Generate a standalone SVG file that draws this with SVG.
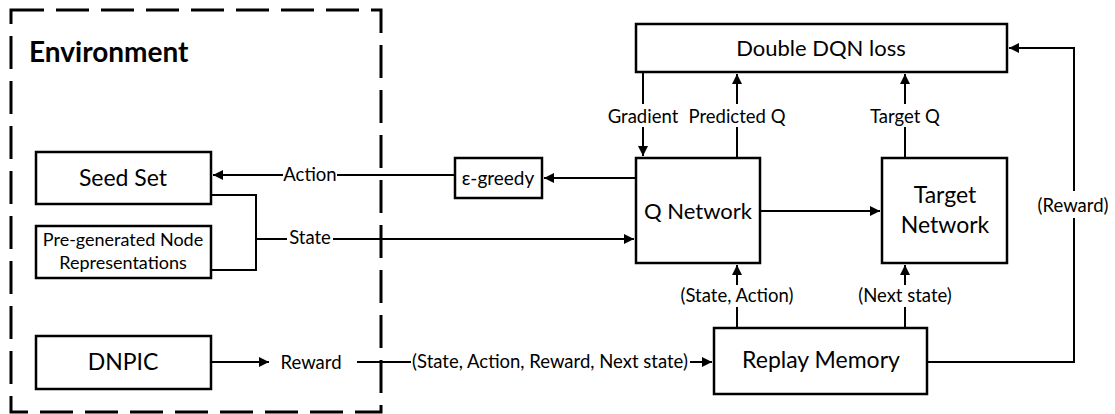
<svg xmlns="http://www.w3.org/2000/svg" width="1115" height="414" viewBox="0 0 1115 414">
  <style>
    .box { fill: #fff; stroke: #000; stroke-width: 2.5; }
    .env { fill: none; stroke: #000; stroke-width: 3; stroke-dasharray: 33 12; }
    .ln { fill: none; stroke: #000; stroke-width: 2; }
    .t { font-family: Lato, "Liberation Sans", sans-serif; fill: #000; text-anchor: middle; }
    .big { font-size: 23px; }
    .mid { font-size: 18px; }
    .lbl { font-size: 18.5px; }
    .mask { fill: #fff; }
  </style>
  <defs>
    <marker id="ah" viewBox="0 0 10 10" refX="10" refY="5" markerWidth="5" markerHeight="5" orient="auto" markerUnits="strokeWidth">
      <path d="M0,0 L10,5 L0,10 z" fill="#000"/>
    </marker>
  </defs>

  <rect width="1115" height="414" fill="#fff"/>

  <!-- environment boundary -->
  <g id="environment">
    <rect class="env" x="11" y="10" width="370" height="402"/>
    <text class="t" x="29" y="62" style="font-size:28px;font-weight:bold;text-anchor:start">Environment</text>
  </g>

  <!-- connectors -->
  <g id="connectors">
    <!-- epsilon-greedy -> Seed Set (Action) -->
    <path class="ln" d="M455,175 H213" marker-end="url(#ah)"/>
    <!-- Seed Set / node representations -> Q Network (State) -->
    <path class="ln" d="M211,195 H256 V270 H211"/>
    <path class="ln" d="M256,239 H634" marker-end="url(#ah)"/>
    <!-- DNPIC -> Reward -->
    <path class="ln" d="M211,362 H269" marker-end="url(#ah)"/>
    <!-- Reward -> Replay Memory -->
    <path class="ln" d="M357,362 H712" marker-end="url(#ah)"/>
    <!-- Q Network -> epsilon-greedy -->
    <path class="ln" d="M636,178 H544" marker-end="url(#ah)"/>
    <!-- Gradient -->
    <path class="ln" d="M643,72 V156" marker-end="url(#ah)"/>
    <!-- Predicted Q -->
    <path class="ln" d="M737,158 V74" marker-end="url(#ah)"/>
    <!-- Target Q -->
    <path class="ln" d="M905,158 V74" marker-end="url(#ah)"/>
    <!-- Q Network -> Target Network -->
    <path class="ln" d="M760,211 H880" marker-end="url(#ah)"/>
    <!-- (State, Action) -->
    <path class="ln" d="M737,328 V265" marker-end="url(#ah)"/>
    <!-- (Next state) -->
    <path class="ln" d="M905,328 V265" marker-end="url(#ah)"/>
    <!-- (Reward) loop -->
    <path class="ln" d="M927,362 H1074 V48 H1009" marker-end="url(#ah)"/>

    <!-- label backgrounds -->
    <rect class="mask" x="283" y="165" width="54" height="20"/>
    <rect class="mask" x="287" y="229" width="46" height="20"/>
    <rect class="mask" x="411" y="352" width="279" height="20"/>
    <rect class="mask" x="604" y="104" width="78" height="23"/>
    <rect class="mask" x="688" y="104" width="99" height="23"/>
    <rect class="mask" x="868" y="104" width="74" height="23"/>
    <rect class="mask" x="676" y="285" width="122" height="22"/>
    <rect class="mask" x="855" y="285" width="100" height="22"/>
    <rect class="mask" x="1037" y="191" width="74" height="27"/>

    <text class="t lbl" x="310" y="181">Action</text>
    <text class="t lbl" x="310" y="244">State</text>
    <text class="t lbl" x="311" y="369">Reward</text>
    <text class="t lbl" x="550" y="368">(State, Action, Reward, Next state)</text>
    <text class="t lbl" x="643" y="123">Gradient</text>
    <text class="t lbl" x="737" y="123">Predicted Q</text>
    <text class="t lbl" x="905" y="123">Target Q</text>
    <text class="t lbl" x="737" y="302">(State, Action)</text>
    <text class="t lbl" x="905" y="302">(Next state)</text>
    <text class="t lbl" x="1073" y="212">(Reward)</text>
  </g>

  <g id="seed-set">
    <rect class="box" x="36" y="152" width="175" height="52"/>
    <text class="t big" x="123" y="186">Seed Set</text>
  </g>

  <g id="node-representations">
    <rect class="box" x="36" y="226" width="175" height="52"/>
    <text class="t mid" x="123" y="246">Pre-generated Node</text>
    <text class="t mid" x="123" y="269">Representations</text>
  </g>

  <g id="dnpic">
    <rect class="box" x="36" y="336" width="175" height="53"/>
    <text class="t big" x="123" y="370">DNPIC</text>
  </g>

  <g id="epsilon-greedy">
    <rect class="box" x="455" y="158" width="87" height="40"/>
    <text class="t" x="498" y="185" style="font-size:19px">ε-greedy</text>
  </g>

  <g id="double-dqn-loss">
    <rect class="box" x="636" y="24" width="371" height="48"/>
    <text class="t" x="821" y="56" style="font-size:22px">Double DQN loss</text>
  </g>

  <g id="q-network">
    <rect class="box" x="636" y="158" width="124" height="105"/>
    <text class="t" x="698" y="219" style="font-size:22px">Q Network</text>
  </g>

  <g id="target-network">
    <rect class="box" x="882" y="158" width="125" height="105"/>
    <text class="t big" x="945" y="203">Target</text>
    <text class="t big" x="945" y="233">Network</text>
  </g>

  <g id="replay-memory">
    <rect class="box" x="714" y="328" width="213" height="66"/>
    <text class="t big" x="821" y="368">Replay Memory</text>
  </g>
</svg>
